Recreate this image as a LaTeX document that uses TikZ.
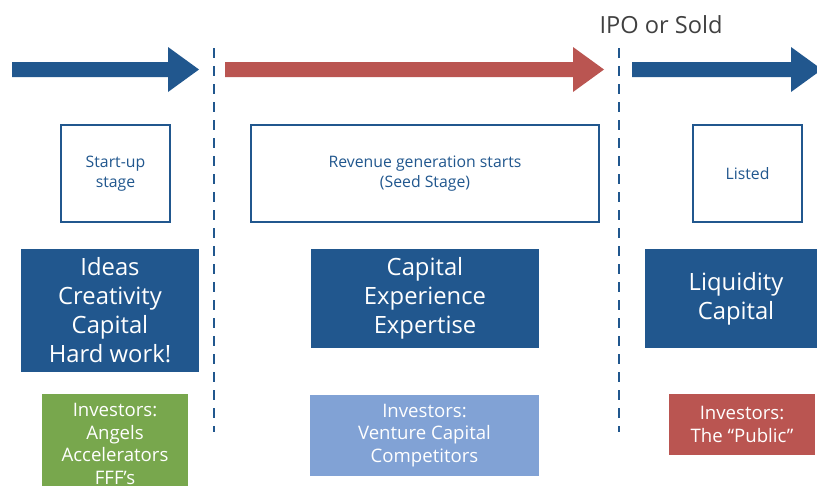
\documentclass[tikz,border=0pt]{standalone}
\usepackage{fontspec}
\setmainfont{Open Sans}
\usepackage{tikz}

\definecolor{darkblue}{RGB}{33,87,142}
\definecolor{brickred}{RGB}{186,85,81}
\definecolor{leafgreen}{RGB}{120,167,77}
\definecolor{skyblue}{RGB}{129,162,213}
\definecolor{textgray}{RGB}{64,64,64}

\tikzset{
    stagebox/.style = {draw = darkblue, line width = 1.5pt, fill = white, text = darkblue,
        align = center, inner sep = 0pt, font = \fontsize{15.8}{20}\selectfont},
    keybox/.style = {fill = darkblue, text = white, align = center, inner sep = 0pt,
        font = \fontsize{23.8}{29}\selectfont},
    investbox/.style = {text = white, align = center, inner sep = 0pt,
        font = \fontsize{18.6}{22.5}\selectfont},
    divider/.style = {draw = darkblue, line width = 2.6pt, dash pattern = on 10pt off 8pt}
}

\begin{document}
\begin{tikzpicture}[x = 1pt, y = -1pt]
        \useasboundingbox (0,0) rectangle (817,485);

        \fill [darkblue] (12,62) -- (168,62) -- (168,47) -- (199,69.5) -- (168,92) -- (168,77) -- (12,77) -- cycle;
        \fill [brickred] (225,62) -- (573,62) -- (573,47) -- (604,69.5) -- (573,92) -- (573,77) -- (225,77) -- cycle;
        \fill [darkblue] (632,62) -- (791,62) -- (791,47) -- (822,69.5) -- (791,92) -- (791,77) -- (632,77) -- cycle;

        \coordinate (cutA top) at (214,48);
        \coordinate (cutA bottom) at (214,432);
        \coordinate (cutB top) at (619,48);
        \coordinate (cutB bottom) at (619,432);
        \draw [divider] (cutA top) -- (cutA bottom);
        \draw [divider] (cutB top) -- (cutB bottom);

        \node [text = textgray, font = \fontsize{23.6}{28}\selectfont] (ipo) at (661,25) {IPO or Sold};

        \node [stagebox, minimum width = 109pt, minimum height = 97pt] (startup) at (115.5,173.5) {Start-up\\stage};
        \node [stagebox, minimum width = 348pt, minimum height = 97pt] (revenue) at (425,173.5) {Revenue generation starts\\(Seed Stage)};
        \node [stagebox, minimum width = 109pt, minimum height = 97pt] (listed) at (747.5,173.5) {Listed};

        \node [keybox, minimum width = 178pt, minimum height = 123pt] (ideas) at (110,310.5) {Ideas\\Creativity\\Capital\\Hard work!};
        \node [keybox, minimum width = 228pt, minimum height = 99pt] (experience) at (425,298.5) {Capital\\Experience\\Expertise};
        \node [keybox, minimum width = 182pt, minimum height = 99pt] (liquidity) at (736,298.5) {Liquidity\\Capital};

        \node [investbox, fill = leafgreen, minimum width = 146pt, minimum height = 100pt] (angels) at (115,444) {Investors:\\Angels\\Accelerators\\FFF’s};
        \node [investbox, fill = skyblue, minimum width = 229pt, minimum height = 81pt] (venture) at (424.5,435.5) {Investors:\\Venture Capital\\Competitors};
        \node [investbox, fill = brickred, minimum width = 146pt, minimum height = 61pt] (public) at (742,424.5) {Investors:\\The “Public”};
    \end{tikzpicture}
\end{document}
